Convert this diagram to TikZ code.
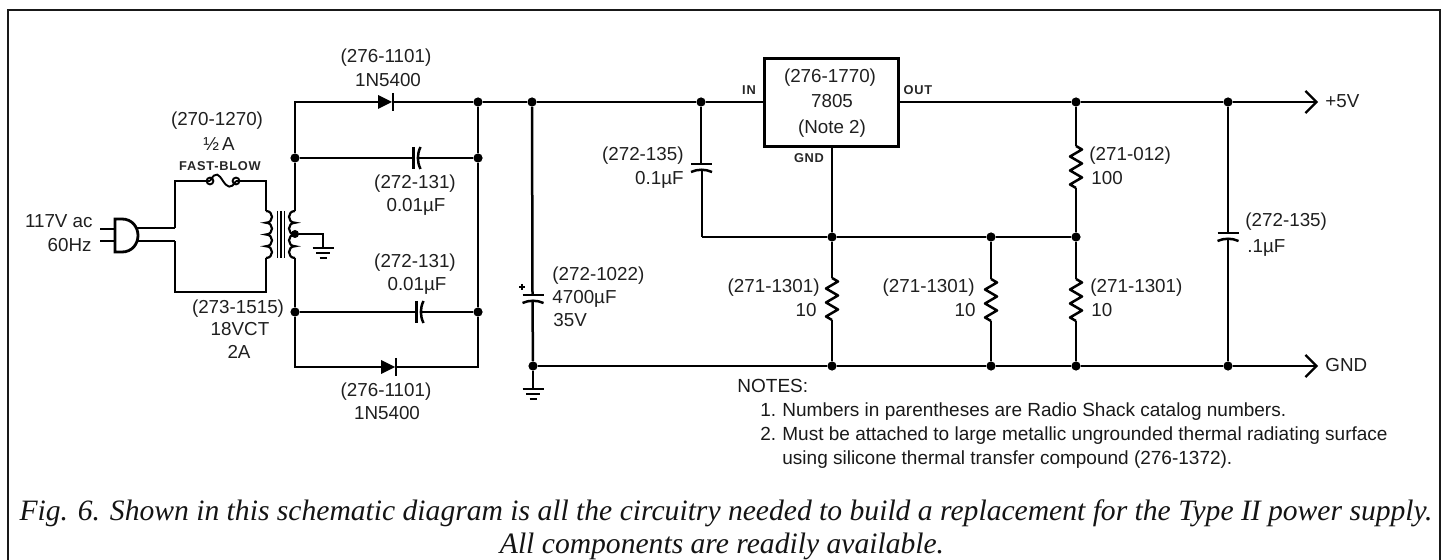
\documentclass[tikz,border=0pt]{standalone}
\usepackage{fontspec}
\usetikzlibrary{arrows.meta}
\setmainfont{Liberation Sans}
\newfontfamily\capfont{Liberation Serif}
\tikzset{
  wire/.style={line width=1.25pt,line join=miter,black},
  rail/.style={wire,-{Straight Barb[length=5.5pt,width=11pt,line width=1.1pt]}},
  dot/.style={circle,fill=black,inner sep=0pt,minimum size=4.6pt},
  lab/.style={inner sep=0pt,text=black!88,font=\fontsize{9.4}{9.4}\selectfont},
  tiny lab/.style={inner sep=0pt,text=black!85,font=\fontsize{6.4}{6.4}\selectfont\bfseries\addfontfeatures{LetterSpace=6}},
  note/.style={inner sep=0pt,anchor=base west,text=black!90,font=\fontsize{9.5}{9.5}\selectfont},
  cap text/.style={inner sep=0pt,anchor=base,text=black!92,font=\capfont\fontsize{14.8}{14.8}\selectfont\itshape},
  resv/.pic={\draw[wire,line join=round] (0,0) -- (6,3.5) -- (-6,10.5) -- (6,17.5) -- (-6,24.5) -- (6,31.5) -- (-6,38.5) -- (0,42);},
  capv/.pic={\draw[wire] (-10.5,0) -- (10.5,0);
    \draw[wire] (-10.5,8) .. controls (-4,5) and (4,5) .. (10.5,8);},
  caph/.pic={\draw[wire] (0,-11) -- (0,11);
    \draw[wire] (7,-11) .. controls (3.5,-4) and (3.5,4) .. (7,11);},
  gnd/.pic={\draw[wire] (-10.5,0) -- (10.5,0);
    \draw[wire] (-7,5) -- (7,5);
    \draw[wire] (-3.5,10) -- (3.5,10);},
  diode/.pic={\fill[black] (0,-7) -- (14,0) -- (0,7) -- cycle;
    \draw[wire] (15,-9) -- (15,9);},
}
\begin{document}
\begin{tikzpicture}[x=0.5pt,y=-0.5pt]
\useasboundingbox (0,0) rectangle (1444,560);
% frame
\coordinate (fa) at (8,560);
\coordinate (fb) at (8,10);
\coordinate (fc) at (1440,10);
\coordinate (fd) at (1440,560);
\draw[line width=1.4pt,black!90] (fa) -- (fb) -- (fc) -- (fd);

% junctions
\node[dot] (tr) at (478,102) {};
\node[dot] (c1l) at (295,158) {};
\node[dot] (c1r) at (478,158) {};
\node[dot] (c2l) at (295,312) {};
\node[dot] (c2r) at (478,312) {};
\node[dot] (t1) at (532,102) {};
\node[dot] (t2) at (701,102) {};
\node[dot] (t3) at (1076,102) {};
\node[dot] (t4) at (1228,102) {};
\node[dot] (m1) at (832,237) {};
\node[dot] (m2) at (991,237) {};
\node[dot] (m3) at (1076,237) {};
\node[dot] (b1) at (533,366) {};
\node[dot] (b2) at (832,366) {};
\node[dot] (b3) at (991,366) {};
\node[dot] (b4) at (1076,366) {};
\node[dot] (b5) at (1228,366) {};
\node[dot,minimum size=4pt] (tap) at (295,234) {};

% regulator
\node[draw=black,line width=1.5pt,minimum width=67pt,minimum height=44pt,inner sep=0pt] (reg) at (831,103) {};
\coordinate (regin) at (764,102);
\coordinate (regout) at (898,102);
\coordinate (reggnd) at (832,147);

% free ends
\coordinate (plus) at (1318,102);
\coordinate (minus) at (1318,366);
\coordinate (tl) at (295,102);
\coordinate (bl) at (295,367);
\coordinate (br) at (478,367);
\coordinate (secT) at (295,211);
\coordinate (secB) at (295,258);
\coordinate (priT) at (266,211);
\coordinate (priB) at (266,258);
\coordinate (pt) at (266,181);
\coordinate (pb) at (266,292);
\coordinate (lt) at (175,181);
\coordinate (lb) at (175,292);
\coordinate (p1) at (137,228);
\coordinate (p2) at (137,241);
\coordinate (k1) at (175,228);
\coordinate (k2) at (175,241);
\coordinate (fl) at (210,181);
\coordinate (fr) at (236,181);
\coordinate (tapc) at (323,234);
\coordinate (tapg) at (323,248);
\coordinate (mc) at (702,237);
\coordinate (gnd2) at (533,389);

% primary
\draw[wire] (k1) -- (lt) -- (fl);
\draw[wire] (fr) -- (pt) -- (priT);
\draw[wire] (priB) -- (pb) -- (lb) -- (k2);
\draw[wire] (p1) -- (k1);
\draw[wire] (p2) -- (k2);
% fuse
\draw[line width=0.95pt] (fl) circle[radius=1.7pt];
\draw[line width=0.95pt] (fr) circle[radius=1.7pt];
\draw[line width=0.95pt] (fl) .. controls (216,170) and (219,175) .. (223,181) .. controls (227,187) and (231,190) .. (fr);
% plug
\draw[wire,line width=1.4pt] (115,219) -- (115,252) -- (122,252) .. controls (132,252) and (138,244) .. (138,235.5) .. controls (138,227) and (132,219) .. (122,219) -- cycle;
\draw[wire] (100,229) -- (115,229);
\draw[wire] (100,241) -- (115,241);
% transformer coils
\draw[wire,line width=1.1pt] (priT) foreach \i in {0,1,2,3} {.. controls ({274},{211+\i*11.75}) and ({274},{211+(\i+1)*11.75}) .. (266,{211+(\i+1)*11.75})};
\draw[wire,line width=1.1pt] (secT) foreach \i in {0,1,2,3} {.. controls ({287},{211+\i*11.75}) and ({287},{211+(\i+1)*11.75}) .. (295,{211+(\i+1)*11.75})};
\draw[line width=0.8pt] (277.5,211) -- (277.5,258);
\draw[line width=0.8pt] (281,211) -- (281,258);
\draw[line width=0.8pt] (284.5,211) -- (284.5,258);
% tap and ground
\draw[wire] (tap) -- (tapc) -- (tapg);
\pic at (tapg) {gnd};

% secondary rails
\draw[wire] (secT) -- (c1l) -- (tl) -- (378,102);
\draw[wire] (393,102) -- (tr);
\draw[wire] (secB) -- (c2l) -- (bl) -- (383,367);
\draw[wire] (396,367) -- (br) -- (c2r) -- (c1r) -- (tr);
\pic at (378,102) {diode};
\pic at (381,367) {diode};
% film caps
\draw[wire] (c1l) -- (413.5,158);
\draw[wire] (417.5,158) -- (c1r);
\pic at (413.5,158) {caph};
\draw[wire] (c2l) -- (416.5,312);
\draw[wire] (420.5,312) -- (c2r);
\pic at (416.5,312) {caph};

% main rails
\draw[wire] (tr) -- (t1) -- (t2) -- (regin);
\draw[rail] (regout) -- (t3) -- (t4) -- (plus);
\draw[rail] (b1) -- (b2) -- (b3) -- (b4) -- (b5) -- (minus);
\draw[wire] (mc) -- (m1) -- (m2) -- (m3);
\draw[wire] (reggnd) -- (m1);

% 0.1 uF
\draw[wire] (t2) -- (701,164);
\draw[wire] (702,169) -- (mc);
\pic at (701.5,164) {capv};
% 4700 uF
\draw[wire] (t1) -- (532.5,295);
\draw[wire] (532.5,300) -- (b1);
\pic at (533,295) {capv};
\draw[line width=0.9pt] (519,287) -- (525,287) (522,284) -- (522,290);
\draw[wire] (b1) -- (gnd2);
\pic at (gnd2) {gnd};
% .1 uF
\draw[wire] (t4) -- (1228,233);
\draw[wire] (1228,238) -- (b5);
\pic at (1228,233) {capv};
% resistors
\draw[wire] (m1) -- (832,278);
\pic at (832,278) {resv};
\draw[wire] (832,320) -- (b2);
\draw[wire] (m2) -- (991,279);
\pic at (991,279) {resv};
\draw[wire] (991,321) -- (b3);
\draw[wire] (m3) -- (1076,279);
\pic at (1076,279) {resv};
\draw[wire] (1076,321) -- (b4);
\draw[wire] (t3) -- (1076,146);
\pic at (1076,146) {resv};
\draw[wire] (1076,188) -- (m3);

% labels
\node[lab,anchor=base] (l1) at (386,63) {(276-1101)};
\node[lab,anchor=base] (l2) at (388,87) {1N5400};
\node[lab,anchor=base] (l3) at (217,126) {(270-1270)};
\node[lab,anchor=base] (l4) at (219,151) {½\,A};
\node[tiny lab,anchor=base] (l5) at (220,171) {FAST-BLOW};
\node[lab,anchor=base east] (l6) at (93,228) {117V ac};
\node[lab,anchor=base east] (l7) at (92,252) {60Hz};
\node[lab,anchor=base] (l8) at (415,189) {(272-131)};
\node[lab,anchor=base] (l9) at (416,212) {0.01µF};
\node[lab,anchor=base] (l10) at (415,268) {(272-131)};
\node[lab,anchor=base] (l11) at (417,291) {0.01µF};
\node[lab,anchor=base] (l12) at (238,314) {(273-1515)};
\node[lab,anchor=base] (l13) at (240,336) {18VCT};
\node[lab,anchor=base] (l14) at (239,359) {2A};
\node[lab,anchor=base] (l15) at (386,397) {(276-1101)};
\node[lab,anchor=base] (l16) at (387,420) {1N5400};
\node[lab,anchor=base] (l17) at (830,83) {(276-1770)};
\node[lab,anchor=base] (l18) at (832,108) {7805};
\node[lab,anchor=base] (l19) at (832,134) {(Note 2)};
\node[tiny lab,anchor=base] (l20) at (749,95) {IN};
\node[tiny lab,anchor=base] (l21) at (918,95) {OUT};
\node[tiny lab,anchor=base] (l22) at (809,163) {GND};
\node[lab,anchor=base east] (l23) at (684,161) {(272-135)};
\node[lab,anchor=base east] (l24) at (684,185) {0.1µF};
\node[lab,anchor=base west] (l25) at (552,281) {(272-1022)};
\node[lab,anchor=base west] (l26) at (552,304) {4700µF};
\node[lab,anchor=base west] (l27) at (553,327) {35V};
\node[lab,anchor=base east] (l28) at (820,293) {(271-1301)};
\node[lab,anchor=base east] (l29) at (817,317) {10};
\node[lab,anchor=base east] (l30) at (975,293) {(271-1301)};
\node[lab,anchor=base east] (l31) at (976,317) {10};
\node[lab,anchor=base west] (l32) at (1089,161) {(271-012)};
\node[lab,anchor=base west] (l33) at (1091,185) {100};
\node[lab,anchor=base west] (l34) at (1090,293) {(271-1301)};
\node[lab,anchor=base west] (l35) at (1091,317) {10};
\node[lab,anchor=base west] (l36) at (1245,227) {(272-135)};
\node[lab,anchor=base west] (l37) at (1247,253) {.1µF};
\node[lab,anchor=base west] (l38) at (1325,108) {+5V};
\node[lab,anchor=base west] (l39) at (1325,372) {GND};
% notes
\node[note] (n0) at (737,393) {NOTES:};
\node[note] (n1a) at (760,417) {1.};
\node[note] (n1) at (782,417) {Numbers in parentheses are Radio Shack catalog numbers.};
\node[note] (n2a) at (760,441) {2.};
\node[note] (n2) at (782,441) {Must be attached to large metallic ungrounded thermal radiating surface};
\node[note] (n3) at (782,465) {using silicone thermal transfer compound (276-1372).};
% caption
\node[cap text] (c1) at (726,520) {Fig. 6. Shown in this schematic diagram is all the circuitry needed to build a replacement for the Type II power supply.};
\node[cap text] (c2) at (722,553) {All components are readily available.};
\end{tikzpicture}
\end{document}
